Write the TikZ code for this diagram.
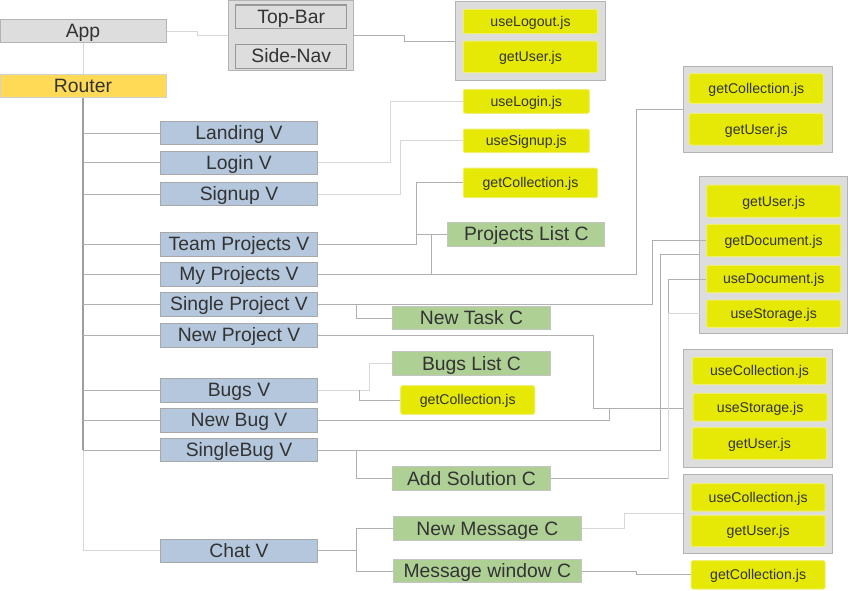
\documentclass[tikz,border=0pt]{standalone}
\usepackage{fontspec}
\setmainfont{Liberation Sans}
\definecolor{txt}{HTML}{333333}
\definecolor{grayf}{HTML}{DDDDDD}
\definecolor{grayb}{HTML}{B3B3B3}
\definecolor{routerc}{HTML}{FFDA56}
\definecolor{viewc}{HTML}{B4C7DC}
\definecolor{viewb}{HTML}{A8A8A8}
\definecolor{compc}{HTML}{AFD095}
\definecolor{compb}{HTML}{C4C4C4}
\definecolor{jsc}{HTML}{E6E905}
\definecolor{jsb}{HTML}{EEEE70}
\definecolor{lnc}{HTML}{B0B0B0}
\definecolor{lnlc}{HTML}{D8D8D8}
\tikzset{
  box/.style={draw, line width=0.75pt, inner sep=0pt, text=txt, anchor=center},
  big/.style={font=\fontsize{14.5}{16}\selectfont, text height=10.4pt, text depth=0.4pt},
  appbox/.style={box, big, fill=grayf, draw=grayb, minimum width=124.5pt, minimum height=17.55pt},
  routerbox/.style={box, big, fill=routerc, draw=grayb!60, minimum width=124.5pt, minimum height=17.55pt},
  grp/.style={box, fill=grayf, draw=grayb},
  inner/.style={box, big, fill=grayf, draw=grayb!85!black, line width=1pt, minimum width=83.25pt, minimum height=17.8pt},
  view/.style={box, big, fill=viewc, draw=viewb, minimum width=118.05pt, minimum height=17.55pt},
  comp/.style={box, big, fill=compc, draw=compb, minimum width=117.8pt, minimum height=17.7pt},
  js/.style={box, fill=jsc, draw=jsb, rounded corners=1.5pt, font=\fontsize{10.6}{12}\selectfont, text height=7.6pt, text depth=0.3pt, minimum width=100.6pt},
  ln/.style={draw=lnc, line width=0.75pt},
  lnl/.style={draw=lnlc, line width=0.75pt},
  trunk/.style={draw=lnc!90!black, line width=1pt}
}
\begin{document}
\begin{tikzpicture}[x=0.75pt,y=-0.75pt]
\useasboundingbox (0,0) rectangle (848,590);

% App / Router
\node[appbox] (app) at (83,31) {App};
\node[routerbox] (router) at (83,86) {Router};

% Top-Bar / Side-Nav group
\node[grp, minimum width=125*0.75pt, minimum height=70.5*0.75pt] (tbg) at (290.8,35.7) {};
\node[inner] (topbar) at (291.2,16.9) {Top-Bar};
\node[inner] (sidenav) at (291.2,56.3) {Side-Nav};

% Views
\node[view] (landing) at (239,133.2) {Landing V};
\node[view] (login) at (239,162.7) {Login V};
\node[view] (signup) at (239,194.2) {Signup V};
\node[view] (team) at (239,244.3) {Team Projects V};
\node[view] (myp) at (239,274.3) {My Projects V};
\node[view] (sp) at (239,304.3) {Single Project V};
\node[view] (np) at (239,335.3) {New Project V};
\node[view] (bugs) at (239,390.3) {Bugs V};
\node[view] (nb) at (239,420.3) {New Bug V};
\node[view] (sb) at (239,450.2) {SingleBug V};
\node[view] (chat) at (239,550.7) {Chat V};

% Components
\node[comp] (plist) at (526.35,234.3) {Projects List C};
\node[comp] (ntask) at (471.5,318) {New Task C};
\node[comp] (blist) at (471.5,363.7) {Bugs List C};
\node[comp] (addsol) at (471.5,478.5) {Add Solution C};
\node[comp, minimum width=188.7*0.75pt] (nmsg) at (487.35,528.5) {New Message C};
\node[comp, minimum width=188.7*0.75pt] (mwin) at (487.35,571) {Message window C};

% Groups of hooks
\node[grp, minimum width=149.6*0.75pt, minimum height=78.6*0.75pt] (g1) at (530.5,41) {};
\node[grp, minimum width=149.4*0.75pt, minimum height=86*0.75pt] (g2) at (758,109.3) {};
\node[grp, minimum width=148.2*0.75pt, minimum height=157.3*0.75pt] (g3) at (773.4,254.65) {};
\node[grp, minimum width=149.4*0.75pt, minimum height=118*0.75pt] (g4) at (758,408.3) {};
\node[grp, minimum width=149.4*0.75pt, minimum height=79*0.75pt] (g5) at (758,513.8) {};

% JS hooks
\node[js, minimum height=24.4*0.75pt] (ulogout) at (530.5,21.5) {useLogout.js};
\node[js, minimum height=31.7*0.75pt] (gu1) at (530.5,56.85) {getUser.js};
\node[js, minimum width=126*0.75pt, minimum height=24*0.75pt] (ulogin) at (526.3,101.3) {useLogin.js};
\node[js, minimum width=126*0.75pt, minimum height=23.7*0.75pt] (usignup) at (526.3,140.85) {useSignup.js};
\node[js, minimum height=29.7*0.75pt] (gc1) at (530.5,182.85) {getCollection.js};
\node[js, minimum height=29.6*0.75pt] (gc2) at (756.3,88.5) {getCollection.js};
\node[js, minimum height=31.7*0.75pt] (gu2) at (756.3,129.15) {getUser.js};
\node[js, minimum height=32.3*0.75pt] (gu3) at (773.7,201.15) {getUser.js};
\node[js, minimum height=32.4*0.75pt] (gdoc) at (773.7,240.5) {getDocument.js};
\node[js, minimum height=27.4*0.75pt] (udoc) at (773.7,279) {useDocument.js};
\node[js, minimum height=27.3*0.75pt] (ustor3) at (773.7,313.65) {useStorage.js};
\node[js, minimum height=27*0.75pt] (ucol4) at (759.5,370.8) {useCollection.js};
\node[js, minimum height=27.7*0.75pt] (ustor4) at (760.15,407.15) {useStorage.js};
\node[js, minimum height=31.6*0.75pt] (gu4) at (759.5,443.5) {getUser.js};
\node[js, minimum height=27.3*0.75pt] (ucol5) at (758.15,497.35) {useCollection.js};
\node[js, minimum height=31.4*0.75pt] (gu5) at (758.15,531) {getUser.js};
\node[js, minimum height=28.3*0.75pt] (gcl) at (758.15,574.85) {getCollection.js};
\node[js, minimum height=28.6*0.75pt] (gcb) at (467.7,400) {getCollection.js};

% Connectors
\draw[lnl] (app.south) -- (router.north);
\draw[lnl] (app.east) -- ++(30.7,0) |- (tbg.west);
\draw[ln] (tbg.east) -- ++(51,0) |- (g1.west);
\draw[trunk] (router.south) -- (router.south |- sb.west);
\draw[lnl] (router.south |- sb.west) -- (router.south |- chat.west);
\draw[ln] (router.south |- landing.west) -- (landing.west);
\draw[ln] (router.south |- login.west) -- (login.west);
\draw[ln] (router.south |- signup.west) -- (signup.west);
\draw[ln] (router.south |- team.west) -- (team.west);
\draw[ln] (router.south |- myp.west) -- (myp.west);
\draw[ln] (router.south |- sp.west) -- (sp.west);
\draw[ln] (router.south |- np.west) -- (np.west);
\draw[ln] (router.south |- bugs.west) -- (bugs.west);
\draw[ln] (router.south |- nb.west) -- (nb.west);
\draw[ln] (router.south |- sb.west) -- (sb.west);
\draw[lnl] (router.south |- chat.west) -- (chat.west);

\draw[lnl] (login.east) -- ++(72.6,0) |- (ulogin.west);
\draw[lnl] (signup.east) -- ++(82.6,0) |- (usignup.west);
\draw[ln] (team.east) -- ++(98.6,0) |- (gc1.west);
\draw[ln] (plist.west) -- ++(-31.4,0);
\draw[ln] (myp.east) -- ++(318.6,0) |- (g2.west);
\draw[ln] (plist.west) ++(-15.4,0) -- ++(0,40);
\draw[ln] (sp.east) -- ++(334.6,0) |- (gdoc.west);
\draw[ln] (sp.east) ++(38,0) |- (ntask.west);
\draw[ln] (np.east) -- ++(275.6,0) |- (g4.west);
\draw[lnl] (bugs.east) -- ++(51.6,0) |- (blist.west);
\draw[ln] (bugs.east) ++(41.6,0) |- (gcb.west);
\draw[ln] (nb.east) -- ++(291.3,0) |- (g4.west);
\draw[ln] (sb.east) -- ++(342.3,0) |- (g3.west);
\draw[ln] (sb.east) ++(38,0) |- (addsol.west);
\draw[ln] (addsol.east) -- ++(117.7,0) |- (udoc.west);
\draw[lnl] (addsol.east) ++(117.7,0) |- (ustor3.west);
\draw[ln] (chat.east) -- ++(38,0) |- (nmsg.west);
\draw[ln] (chat.east) ++(38,0) |- (mwin.west);
\draw[lnl] (nmsg.east) -- ++(42.6,0) |- (g5.west);
\draw[ln] (mwin.east) -- ++(54.6,0) |- (gcl.west);
\end{tikzpicture}
\end{document}
